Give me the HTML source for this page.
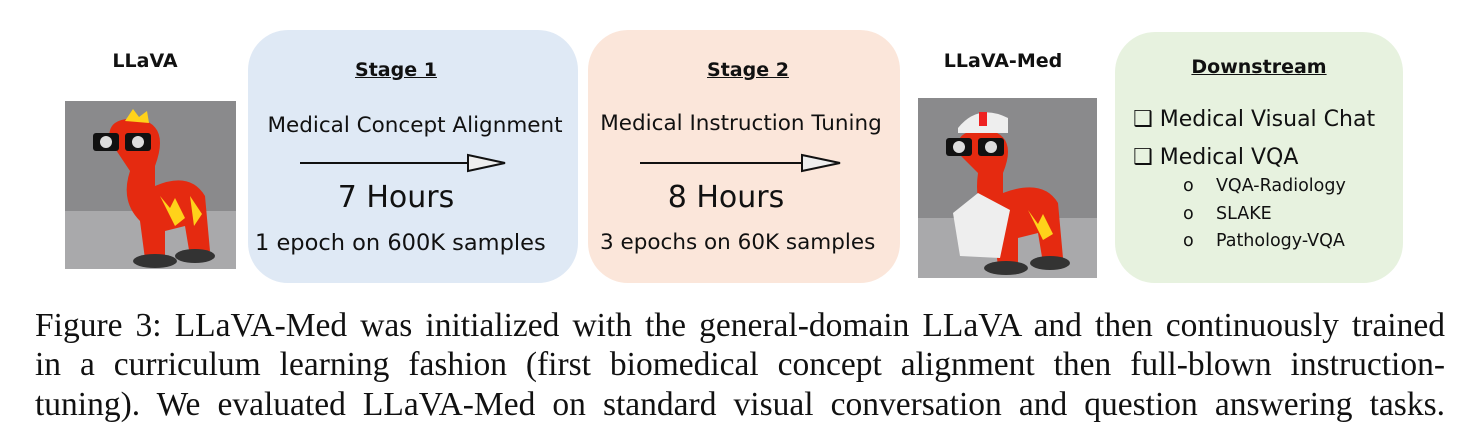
<!DOCTYPE html>
<html><head><style>
body{margin:0;width:1472px;height:444px;background:#fff;position:relative;overflow:hidden;font-family:"DejaVu Sans","Liberation Sans",sans-serif;color:#111}
.a{position:absolute;white-space:nowrap}
.box{position:absolute;border-radius:40px}
.c{text-align:center}
.u{text-decoration:underline;font-weight:bold;font-size:19px}
.cap{position:absolute;left:35px;width:1410px;font-family:"Liberation Serif",serif;font-size:33.5px;text-align:justify;text-align-last:justify;white-space:nowrap;line-height:39px}
</style></head><body>
<div class="a c" style="left:65px;width:160px;top:50px;font-size:19px;font-weight:bold">LLaVA</div>
<svg class="a" style="left:65px;top:101px" width="171" height="168">
<rect width="171" height="168" fill="#8a8a8c"/><rect y="110" width="171" height="58" fill="#a9a9ab"/>
<path d="M45 40 Q40 15 75 18 Q105 25 90 65 L90 85 Q125 70 140 95 L145 150 L125 155 L120 125 L100 130 L100 158 L80 158 L75 120 Q55 100 65 70 Z" fill="#e52a10"/>
<path d="M95 95 l10 12 l5 -10 l10 20 l-10 8z M125 95 l12 18 l-8 12z M60 20 l8 -12 l6 8 l8 -6 l2 12z" fill="#ffd21a"/>
<rect x="28" y="32" width="26" height="18" fill="#111" rx="3"/><rect x="60" y="32" width="26" height="18" fill="#111" rx="3"/>
<circle cx="41" cy="41" r="6" fill="#ddd"/><circle cx="73" cy="41" r="6" fill="#ddd"/>
<ellipse cx="90" cy="160" rx="22" ry="7" fill="#333"/><ellipse cx="130" cy="155" rx="20" ry="7" fill="#333"/>
</svg>
<div class="box" style="left:248px;top:30px;width:330px;height:253px;background:#dfe9f5"></div>
<div class="a c u" style="left:248px;width:296px;top:59px">Stage 1</div>
<div class="a c" style="left:248px;width:334px;top:113px;font-size:21.5px">Medical Concept Alignment</div>
<svg class="a" style="left:300px;top:150px" width="210" height="24"><line x1="0" y1="13" x2="168" y2="13" stroke="#111" stroke-width="2"/><path d="M168 5 L205 13 L168 21 Z" fill="#eee" stroke="#111" stroke-width="2"/></svg>
<div class="a c" style="left:248px;width:296px;top:180px;font-size:30px">7 Hours</div>
<div class="a" style="left:255px;top:230px;font-size:22.5px">1 epoch on 600K samples</div>

<div class="box" style="left:588px;top:30px;width:312px;height:253px;background:#fbe6da"></div>
<div class="a c u" style="left:588px;width:320px;top:59px">Stage 2</div>
<div class="a c" style="left:588px;width:306px;top:111px;font-size:21.5px">Medical Instruction Tuning</div>
<svg class="a" style="left:640px;top:150px" width="210" height="24"><line x1="0" y1="13" x2="162" y2="13" stroke="#111" stroke-width="2"/><path d="M162 5 L200 13 L162 21 Z" fill="#eee" stroke="#111" stroke-width="2"/></svg>
<div class="a c" style="left:588px;width:276px;top:180px;font-size:30px">8 Hours</div>
<div class="a" style="left:600px;top:230px;font-size:21.5px">3 epochs on 60K samples</div>

<div class="a c" style="left:918px;width:170px;top:50px;font-size:19px;font-weight:bold">LLaVA-Med</div>
<svg class="a" style="left:918px;top:98px" width="179" height="180">
<rect width="179" height="180" fill="#8a8a8c"/><rect y="120" width="179" height="60" fill="#a9a9ab"/>
<path d="M40 55 Q35 30 70 32 Q100 38 85 75 L85 95 Q125 80 140 105 L145 160 L125 165 L120 135 L100 140 L100 168 L80 168 L75 130 Q55 110 60 75 Z" fill="#e52a10"/>
<path d="M40 30 Q60 5 90 20 L90 35 L40 35Z" fill="#eee"/><rect x="61" y="14" width="8" height="14" fill="#e22"/>
<path d="M35 115 L60 95 L92 112 L82 160 L42 158 Z" fill="#eee"/>
<path d="M110 112 l10 14 l5 -10 l10 20 l-10 6z" fill="#ffd21a"/>
<rect x="28" y="40" width="26" height="18" fill="#111" rx="3"/><rect x="60" y="40" width="26" height="18" fill="#111" rx="3"/>
<circle cx="41" cy="49" r="6" fill="#ddd"/><circle cx="73" cy="49" r="6" fill="#ddd"/>
<ellipse cx="88" cy="170" rx="22" ry="7" fill="#333"/><ellipse cx="132" cy="165" rx="20" ry="7" fill="#333"/>
</svg>

<div class="box" style="left:1115px;top:32px;width:288px;height:251px;background:#e7f2df"></div>
<div class="a c u" style="left:1115px;width:288px;top:56px">Downstream</div>
<div class="a" style="left:1133px;top:107px;font-size:22px">❑ Medical Visual Chat</div>
<div class="a" style="left:1133px;top:145px;font-size:22px">❑ Medical VQA</div>
<div class="a" style="left:1183px;top:176px;font-size:17.5px">o&nbsp;&nbsp;&nbsp;&nbsp;VQA-Radiology</div>
<div class="a" style="left:1183px;top:204px;font-size:17.5px">o&nbsp;&nbsp;&nbsp;&nbsp;SLAKE</div>
<div class="a" style="left:1183px;top:231px;font-size:17.5px">o&nbsp;&nbsp;&nbsp;&nbsp;Pathology-VQA</div>

<div class="cap" style="top:306px">Figure 3: LLaVA-Med was initialized with the general-domain LLaVA and then continuously trained</div>
<div class="cap" style="top:345px">in a curriculum learning fashion (first biomedical concept alignment then full-blown instruction-</div>
<div class="cap" style="top:385px">tuning). We evaluated LLaVA-Med on standard visual conversation and question answering tasks.</div>
</body></html>
